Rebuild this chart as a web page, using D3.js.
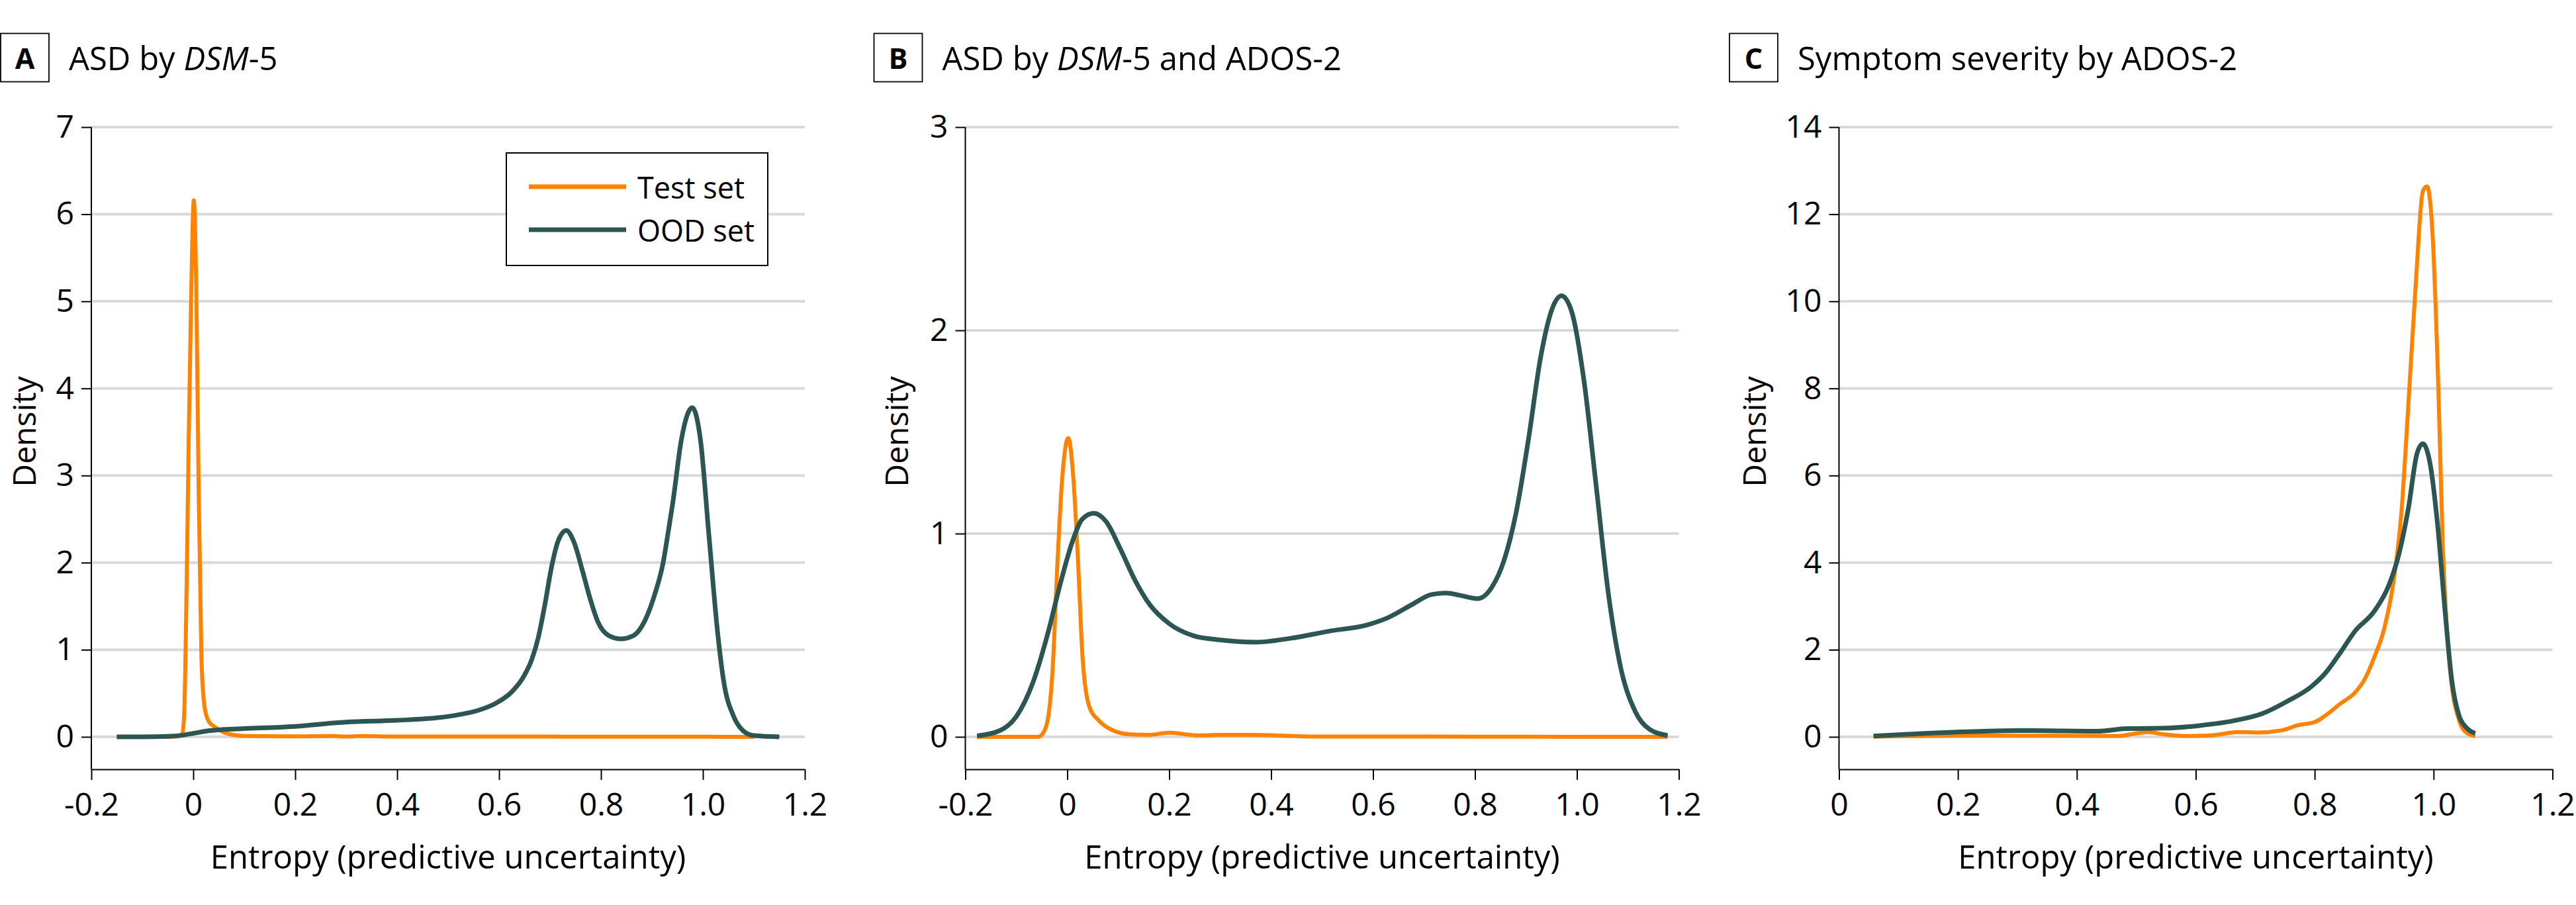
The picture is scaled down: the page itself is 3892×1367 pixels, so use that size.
<!DOCTYPE html>
<html>
<head>
<meta charset="utf-8">
<script src="https://cdn.jsdelivr.net/npm/d3@7"></script>
<style>
  body { margin: 0; background: #fff; }
  text { font-family: "Open Sans", "Noto Sans", sans-serif; fill: #000; }
</style>
</head>
<body>
<svg id="chart"></svg>
<script>
// ---- data ----
const seriesNames = ["Test set", "OOD set"];
const seriesColors = ["#ff8300", "#2b5651"];

const xTicksAB = [-0.2, 0, 0.2, 0.4, 0.6, 0.8, 1.0, 1.2];
const xTicksC = [0, 0.2, 0.4, 0.6, 0.8, 1.0, 1.2];
const yTicksA = [0, 1, 2, 3, 4, 5, 6, 7];
const yTicksB = [0, 1, 2, 3];
const yTicksC = [0, 2, 4, 6, 8, 10, 12, 14];

// panel A: ASD by DSM-5  ([entropy, density])
const asdTest = [[-0.15,0],[-0.1,0],[-0.05,0],[-0.03,0.005],[-0.022,0.03],[-0.018,0.24],[-0.013,1.75],
  [-0.009,3.4],[-0.004,5.1],[0.001,6.16],[0.006,5.09],[0.0105,2.86],[0.016,0.91],[0.022,0.35],[0.03,0.18],
  [0.046,0.1],[0.065,0.04],[0.1,0.01],[0.2,0.005],[0.27,0.01],[0.3,0.003],[0.33,0.01],[0.4,0.003],
  [0.5,0.003],[0.6,0.003],[0.7,0.003],[0.8,0.001],[1.0,0.001],[1.1,0]];
const asdOod = [[-0.15,0],[-0.1,0],[-0.05,0.005],[-0.02,0.02],[0,0.04],[0.03,0.07],[0.06,0.085],[0.1,0.095],
  [0.2,0.12],[0.3,0.17],[0.4,0.19],[0.48,0.22],[0.517,0.25],[0.56,0.306],[0.595,0.39],[0.625,0.517],
  [0.647,0.68],[0.664,0.885],[0.677,1.14],[0.69,1.52],[0.703,1.95],[0.716,2.25],[0.732,2.37],[0.746,2.25],
  [0.764,1.9],[0.777,1.62],[0.794,1.32],[0.816,1.16],[0.839,1.125],[0.863,1.16],[0.889,1.37],[0.906,1.645],
  [0.922,2.0],[0.932,2.355],[0.941,2.69],[0.958,3.42],[0.979,3.78],[0.995,3.42],[1.012,2.3],[1.029,1.19],
  [1.041,0.63],[1.06,0.24],[1.079,0.07],[1.1,0.015],[1.15,0]];

// panel B: ASD by DSM-5 and ADOS-2
const adosTest = [[-0.177,0],[-0.1,0],[-0.057,0],[-0.043,0.04],[-0.029,0.32],[-0.019,0.87],[-0.01,1.27],
  [0.002,1.47],[0.012,1.27],[0.021,0.87],[0.03,0.39],[0.043,0.15],[0.062,0.08],[0.086,0.036],[0.124,0.012],
  [0.16,0.01],[0.2,0.02],[0.257,0.007],[0.3,0.01],[0.362,0.01],[0.486,0.002],[0.6,0.002],[0.8,0.001],
  [1.0,0],[1.178,0]];
const adosOod = [[-0.177,0.005],[-0.133,0.03],[-0.1,0.1],[-0.067,0.27],[-0.038,0.51],[-0.014,0.75],
  [0.01,0.96],[0.029,1.07],[0.052,1.1],[0.076,1.06],[0.105,0.92],[0.133,0.77],[0.162,0.65],[0.2,0.557],
  [0.248,0.497],[0.295,0.478],[0.371,0.466],[0.438,0.485],[0.514,0.52],[0.59,0.552],[0.629,0.586],
  [0.676,0.65],[0.714,0.7],[0.743,0.708],[0.771,0.696],[0.805,0.68],[0.833,0.736],[0.857,0.868],
  [0.881,1.107],[0.905,1.465],[0.929,1.87],[0.952,2.11],[0.97,2.17],[0.99,2.09],[1.014,1.75],[1.038,1.23],
  [1.062,0.7],[1.086,0.34],[1.114,0.127],[1.143,0.036],[1.178,0.007]];

// panel C: symptom severity by ADOS-2
const severityTest = [[0.058,0.005],[0.24,0.03],[0.468,0.02],[0.5,0.08],[0.52,0.11],[0.545,0.06],
  [0.582,0.02],[0.623,0.03],[0.672,0.11],[0.704,0.1],[0.745,0.15],[0.77,0.26],[0.802,0.35],[0.819,0.5],
  [0.843,0.76],[0.868,1.02],[0.884,1.32],[0.9,1.82],[0.917,2.49],[0.933,3.6],[0.946,5.17],[0.958,7.73],
  [0.97,10.4],[0.982,12.53],[0.989,12.64],[0.998,11.6],[1.008,8.0],[1.015,4.6],[1.026,1.8],[1.043,0.37],
  [1.056,0.09],[1.07,0.02]];
const severityOod = [[0.058,0.02],[0.117,0.06],[0.198,0.11],[0.32,0.145],[0.435,0.13],[0.484,0.19],
  [0.55,0.2],[0.607,0.26],[0.664,0.37],[0.713,0.54],[0.753,0.81],[0.794,1.15],[0.819,1.48],[0.843,1.93],
  [0.868,2.43],[0.9,2.88],[0.925,3.49],[0.941,4.16],[0.958,5.28],[0.972,6.5],[0.982,6.73],[0.994,6.28],
  [1.007,4.83],[1.019,2.93],[1.031,1.26],[1.043,0.48],[1.056,0.2],[1.07,0.08]];

// ---- layout ----
const width = 3892, height = 1367;
const plotW = 1078;
const topY = 192, zeroY = 1113, axisY = 1162;

const panels = [
  { letter: "A", title: [["ASD by ", false], ["DSM", true], ["-5", false]],
    boxX: 1, axisX: 138, labelX: 54, xDomain: [-0.2, 1.2], xTicks: xTicksAB, yTicks: yTicksA,
    series: [asdTest, asdOod], legend: true },
  { letter: "B", title: [["ASD by ", false], ["DSM", true], ["-5 and ADOS-2", false]],
    boxX: 1320.5, axisX: 1458.5, labelX: 1372, xDomain: [-0.2, 1.2], xTicks: xTicksAB, yTicks: yTicksB,
    series: [adosTest, adosOod], legend: false },
  { letter: "C", title: [["Symptom severity by ADOS-2", false]],
    boxX: 2613, axisX: 2778.5, labelX: 2668, xDomain: [0, 1.2], xTicks: xTicksC, yTicks: yTicksC,
    series: [severityTest, severityOod], legend: false }
];

const svg = d3.select("#chart")
    .attr("width", width)
    .attr("height", height);

svg.append("rect").attr("width", width).attr("height", height).attr("fill", "#fff");

const fmtX = d => d === 0 ? "0" : (d < 0 ? "-" : "") + Math.abs(d).toFixed(1);

panels.forEach(p => {
    const g = svg.append("g");

    const x = d3.scaleLinear().domain(p.xDomain).range([p.axisX, p.axisX + plotW]);
    const y = d3.scaleLinear().domain([0, d3.max(p.yTicks)]).range([zeroY, topY]);

    // panel letter box and title
    g.append("rect")
        .attr("x", p.boxX).attr("y", 50.5)
        .attr("width", 73).attr("height", 73)
        .attr("fill", "none").attr("stroke", "#000").attr("stroke-width", 1.8);
    g.append("text")
        .attr("x", p.boxX + 36.5).attr("y", 103.5)
        .attr("text-anchor", "middle")
        .style("font-size", "43px").style("font-weight", "bold")
        .text(p.letter);
    const title = g.append("text")
        .attr("x", p.boxX + 103).attr("y", 106)
        .style("font-size", "49px");
    p.title.forEach(([t, it]) => {
        title.append("tspan").style("font-style", it ? "italic" : "normal").text(t);
    });

    // gridlines
    g.append("g")
        .selectAll("line")
        .data(p.yTicks)
        .enter()
        .append("line")
        .attr("x1", p.axisX).attr("x2", p.axisX + plotW)
        .attr("y1", d => y(d)).attr("y2", d => y(d))
        .attr("stroke", "#d9d9d9").attr("stroke-width", 4);

    // y axis
    const yAxis = g.append("g")
        .attr("transform", `translate(${p.axisX},0)`)
        .call(d3.axisLeft(y).tickValues(p.yTicks).tickFormat(d3.format("d"))
            .tickSize(15).tickSizeOuter(0).tickPadding(11));
    yAxis.select(".domain").remove();
    yAxis.append("line")
        .attr("x1", 0).attr("x2", 0).attr("y1", topY).attr("y2", axisY)
        .attr("stroke", "#000").attr("stroke-width", 2);

    // x axis
    const xAxis = g.append("g")
        .attr("transform", `translate(0,${axisY})`)
        .call(d3.axisBottom(x).tickValues(p.xTicks).tickFormat(fmtX)
            .tickSize(16).tickSizeOuter(0).tickPadding(20));

    [xAxis, yAxis].forEach(a => {
        a.selectAll(".tick line").attr("stroke", "#000").attr("stroke-width", 2);
        a.selectAll(".domain").attr("stroke", "#000").attr("stroke-width", 2);
        a.selectAll(".tick text")
            .style("font-size", "48px")
            .style("font-family", "\"Open Sans\", \"Noto Sans\", sans-serif")
            .attr("fill", "#000");
    });

    // axis titles
    g.append("text")
        .attr("x", p.axisX + plotW / 2).attr("y", 1312)
        .attr("text-anchor", "middle")
        .style("font-size", "49px")
        .text("Entropy (predictive uncertainty)");
    g.append("text")
        .attr("transform", `translate(${p.labelX},652) rotate(-90)`)
        .attr("text-anchor", "middle")
        .style("font-size", "48px")
        .text("Density");

    // density curves
    const line = d3.line()
        .x(d => x(d[0]))
        .y(d => y(d[1]))
        .curve(d3.curveMonotoneX);

    g.append("g")
        .selectAll("path")
        .data(p.series)
        .enter()
        .append("path")
        .attr("d", line)
        .attr("fill", "none")
        .attr("stroke", (d, i) => seriesColors[i])
        .attr("stroke-width", (d, i) => i === 0 ? 6 : 7)
        .attr("stroke-linejoin", "round");

    // legend
    if (p.legend) {
        const lg = g.append("g").attr("transform", `translate(${p.axisX + 627},231)`);
        lg.append("rect")
            .attr("width", 395).attr("height", 170)
            .attr("fill", "#fff").attr("stroke", "#000").attr("stroke-width", 2);
        seriesNames.forEach((name, i) => {
            lg.append("line")
                .attr("x1", 34).attr("x2", 181)
                .attr("y1", 51 + i * 65).attr("y2", 51 + i * 65)
                .attr("stroke", seriesColors[i]).attr("stroke-width", 7);
            lg.append("text")
                .attr("x", 198).attr("y", 69 + i * 65)
                .style("font-size", "45px")
                .text(name);
        });
    }
});
</script>
</body>
</html>
